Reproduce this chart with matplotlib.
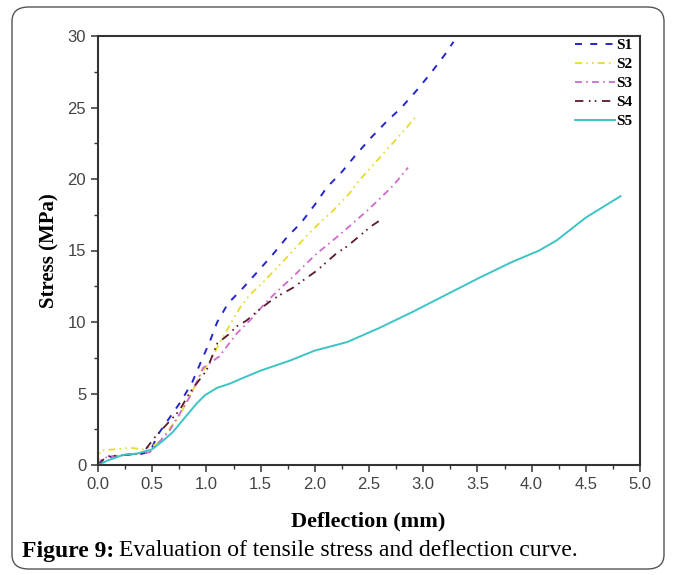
import matplotlib
matplotlib.use("Agg")
import matplotlib.pyplot as plt
from matplotlib.patches import FancyBboxPatch
from matplotlib.ticker import MultipleLocator

plt.rcParams['lines.scale_dashes'] = False

# deflection (mm) / stress (MPa)
s1_x = [0.0, 0.05, 0.23, 0.4, 0.48, 0.55, 0.66, 0.77, 0.87, 0.96, 1.03, 1.1, 1.2, 1.34,
        1.47, 1.61, 1.74, 1.88, 2.0, 2.11, 2.25, 2.38, 2.52, 2.66, 2.8, 2.94, 3.07, 3.2, 3.28]
s1_y = [0.0, 0.5, 0.7, 0.8, 0.9, 2.1, 3.3, 4.5, 5.8, 7.4, 8.6, 10.0, 11.3, 12.4,
        13.5, 14.7, 15.9, 17.0, 18.2, 19.4, 20.5, 21.7, 22.9, 24.0, 25.0, 26.2, 27.4, 28.7, 29.6]

s2_x = [0.0, 0.02, 0.15, 0.3, 0.42, 0.55, 0.75, 0.96, 1.03, 1.12, 1.21, 1.31, 1.4, 1.54,
        1.65, 1.79, 1.91, 2.04, 2.17, 2.32, 2.41, 2.6, 2.8, 2.95]
s2_y = [0.0, 1.0, 1.1, 1.2, 1.1, 1.5, 3.4, 6.5, 7.2, 8.5, 9.7, 11.0, 11.9, 12.9,
        13.8, 14.9, 15.9, 16.9, 17.8, 19.0, 19.9, 21.5, 23.2, 24.5]

s3_x = [0.0, 0.05, 0.25, 0.4, 0.48, 0.66, 0.85, 0.97, 1.12, 1.19, 1.28, 1.4, 1.54, 1.66,
        1.79, 1.91, 2.02, 2.15, 2.26, 2.38, 2.5, 2.61, 2.73, 2.86]
s3_y = [0.0, 0.5, 0.7, 0.8, 0.9, 2.4, 4.8, 6.8, 7.6, 8.3, 9.2, 10.1, 11.3, 12.2,
        13.1, 14.0, 14.8, 15.6, 16.3, 17.1, 17.9, 18.7, 19.6, 20.8]

s4_x = [0.0, 0.08, 0.25, 0.41, 0.52, 0.75, 0.85, 1.0, 1.1, 1.2, 1.28, 1.37, 1.46, 1.58,
        1.68, 1.8, 1.89, 2.02, 2.11, 2.2, 2.3, 2.41, 2.52, 2.6]
s4_y = [0.0, 0.6, 0.7, 0.8, 1.9, 3.8, 5.1, 6.6, 8.5, 9.1, 9.7, 10.1, 10.7, 11.4,
        11.9, 12.4, 12.9, 13.6, 14.2, 14.8, 15.3, 16.0, 16.7, 17.1]

s5_x = [0.0, 0.1, 0.23, 0.36, 0.5, 0.6, 0.69, 0.8, 0.91, 0.99, 1.1, 1.22, 1.31, 1.5,
        1.77, 2.0, 2.3, 2.6, 2.9, 3.21, 3.52, 3.82, 4.07, 4.23, 4.5, 4.82]
s5_y = [0.0, 0.35, 0.7, 0.8, 1.1, 1.7, 2.3, 3.3, 4.3, 4.9, 5.4, 5.7, 6.0, 6.6,
        7.3, 8.0, 8.6, 9.6, 10.7, 11.9, 13.1, 14.2, 15.0, 15.7, 17.3, 18.8]

labels = ['S1', 'S2', 'S3', 'S4', 'S5']
x_ticks = [0.0, 0.5, 1.0, 1.5, 2.0, 2.5, 3.0, 3.5, 4.0, 4.5, 5.0]
y_ticks = [0, 5, 10, 15, 20, 25, 30]

fig = plt.figure(figsize=(6.73, 5.75), dpi=100)

# rounded frame round the whole figure
frame = FancyBboxPatch((12 / 673, 6 / 575), 652 / 673, 562 / 575,
                       boxstyle="round,pad=0,rounding_size=0.025",
                       transform=fig.transFigure, fill=False,
                       edgecolor='#555555', linewidth=1.0)
fig.patches.append(frame)

ax = fig.add_axes([98 / 673, 110 / 575, 542 / 673, 429 / 575])

ax.plot(s1_x, s1_y, color='#2626c8', lw=1.4, dashes=(5, 6), label=labels[0])
ax.plot(s2_x, s2_y, color='#e6dc2a', lw=1.3, dashes=(5, 3, 1.2, 3, 1.2, 3), label=labels[1])
ax.plot(s3_x, s3_y, color='#d06ad0', lw=1.3, dashes=(5, 3, 1.2, 3), label=labels[2])
ax.plot(s4_x, s4_y, color='#5a1a2a', lw=1.3, dashes=(6, 4, 1.2, 3, 1.2, 4), label=labels[3])
ax.plot(s5_x, s5_y, color='#3cc4c4', lw=1.4, label=labels[4])

ax.set_xlim(0, 5)
ax.set_ylim(0, 30)
ax.set_xticks(x_ticks)
ax.set_xticklabels([f'{v:.1f}' for v in x_ticks])
ax.set_yticks(y_ticks)
ax.xaxis.set_minor_locator(MultipleLocator(0.25))
ax.yaxis.set_minor_locator(MultipleLocator(2.5))
ax.tick_params(which='major', direction='out', length=5, width=1.1, colors='#333333',
               labelsize=12, labelcolor='#444444', top=False, right=False)
ax.tick_params(which='minor', direction='out', length=3, width=1.0, colors='#333333',
               top=False, right=False)
for lab in ax.get_xticklabels() + ax.get_yticklabels():
    lab.set_family('Liberation Sans')
for sp in ax.spines.values():
    sp.set_color('#333333')
    sp.set_linewidth(1.5)

ax.set_xlabel('Deflection (mm)', family='Liberation Serif', fontweight='bold', fontsize=16)
ax.set_ylabel('Stress (MPa)', family='Liberation Serif', fontweight='bold', fontsize=15)
ax.xaxis.set_label_coords(0.498, -0.108)
ax.yaxis.set_label_coords(-0.071, 0.5)

leg = ax.legend(loc='upper right', bbox_to_anchor=(1.0, 1.012), frameon=False,
                handlelength=2.6, handletextpad=0.1, labelspacing=0.35, borderaxespad=0.1,
                prop={'family': 'Liberation Serif', 'weight': 'bold', 'size': 11})

# caption: bold "Figure 9:" then the regular text right after it
cap_y = 1 - 551 / 575
head = fig.text(22 / 673, cap_y, 'Figure 9:', family='Liberation Serif',
                fontweight='bold', fontsize=17, va='center', ha='left')
fig.canvas.draw()
bb = head.get_window_extent(renderer=fig.canvas.get_renderer())
fig.text(bb.x1 / fig.bbox.width + 5 / 673, cap_y,
         'Evaluation of tensile stress and deflection curve.',
         family='Liberation Serif', fontsize=17, va='center', ha='left')

fig.savefig('out.png', dpi=100)
